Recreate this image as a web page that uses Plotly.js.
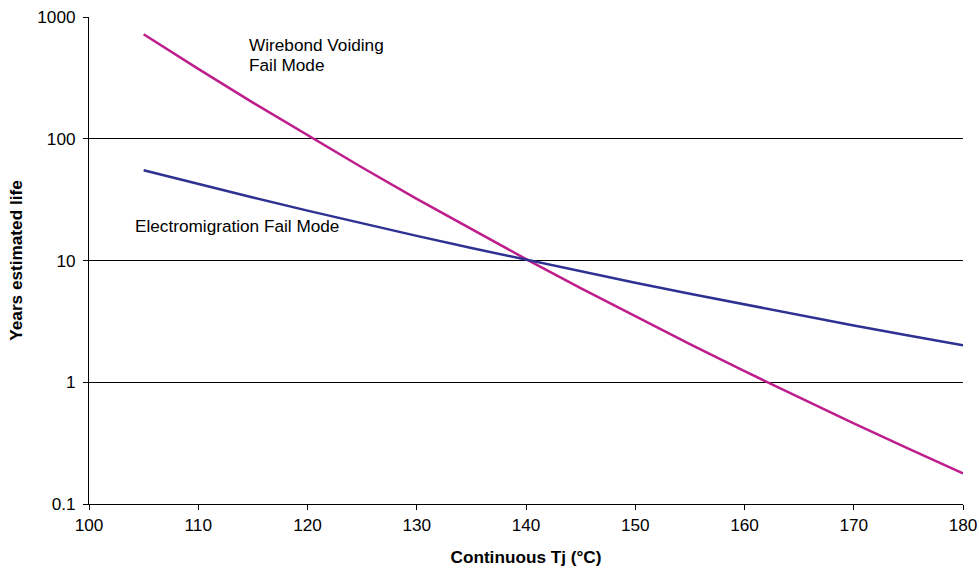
<!DOCTYPE html>
<html>
<head>
<meta charset="utf-8">
<script src="https://cdn.plot.ly/plotly-3.0.1.min.js"></script>
<style>html,body{margin:0;padding:0;background:#fff;}#chart{width:979px;height:571px;}</style>
</head>
<body>
<div id="chart"></div>
<script>
const tj = [105,110,115,120,125,130,135,140,145,150,155,160,165,170,175,180];
const wirebondLife = [721,374.5,198,106.3,58.0,32.1,18.05,10.28,5.94,3.47,2.056,1.233,0.748,0.459,0.285,0.1784];
const electromigrationLife = [55.1,42.45,32.93,25.69,20.17,15.93,12.66,10.12,8.125,6.56,5.325,4.342,3.557,2.927,2.419,2.008];
const xTicks = [100,110,120,130,140,150,160,170,180];
const yTicks = [0.1,1,10,100,1000];
const yTickText = ['0.1','1','10','100','1000'];
const gridVals = [1,10,100];

const font = 'Liberation Sans, Arial, sans-serif';
const fs = 17.2;
const traces = [
  {x: tj, y: wirebondLife, mode: 'lines', line: {color: '#BE1E8C', width: 2.5}, hoverinfo: 'skip'},
  {x: tj, y: electromigrationLife, mode: 'lines', line: {color: '#2E3192', width: 2.5}, hoverinfo: 'skip'},
  {x: [100], y: [1], yaxis: 'y2', mode: 'markers', marker: {opacity: 0}, hoverinfo: 'skip'}
];
const layout = {
  width: 979, height: 571,
  margin: {l: 89, r: 16, t: 17, b: 67},
  paper_bgcolor: '#fff', plot_bgcolor: '#fff',
  showlegend: false,
  font: {family: font, size: fs, color: '#000'},
  xaxis: {
    range: [100, 180], tickvals: xTicks, ticktext: xTicks.map(String),
    showgrid: false, zeroline: false, showline: true, linecolor: '#000', linewidth: 1,
    ticks: 'outside', ticklen: 5, tickcolor: '#000', tickfont: {size: fs},
    title: {text: '<b>Continuous Tj (°C)</b>', font: {size: fs}, standoff: 17}
  },
  yaxis: {
    type: 'log', range: [-1, 3], tickvals: yTicks, ticktext: yTickText,
    showgrid: false, zeroline: false, showline: true, linecolor: '#000', linewidth: 1,
    ticks: 'outside', ticklen: 5, tickcolor: '#000', tickfont: {size: fs},
    ticklabelstandoff: 4,
    title: {text: '<b>Years estimated life</b>', font: {size: fs}, standoff: 10}
  },
  yaxis2: {
    type: 'log', range: [-1, 3], overlaying: 'y', tickvals: gridVals,
    showticklabels: false, showgrid: true, gridcolor: '#000', gridwidth: 1,
    ticks: '', showline: false, zeroline: false
  },
  annotations: [
    {x: 114.5, y: Math.log10(593), xref: 'x', yref: 'y', text: 'Wirebond Voiding', showarrow: false, xanchor: 'left', yanchor: 'middle', align: 'left', font: {size: fs}},
    {x: 114.5, y: Math.log10(406), xref: 'x', yref: 'y', text: 'Fail Mode', showarrow: false, xanchor: 'left', yanchor: 'middle', align: 'left', font: {size: fs}},
    {x: 104.0, y: Math.log10(19.1), xref: 'x', yref: 'y', text: 'Electromigration Fail Mode', showarrow: false, xanchor: 'left', yanchor: 'middle', align: 'left', font: {size: fs}}
  ]
};
Plotly.newPlot('chart', traces, layout, {staticPlot: true});
</script>
</body>
</html>
